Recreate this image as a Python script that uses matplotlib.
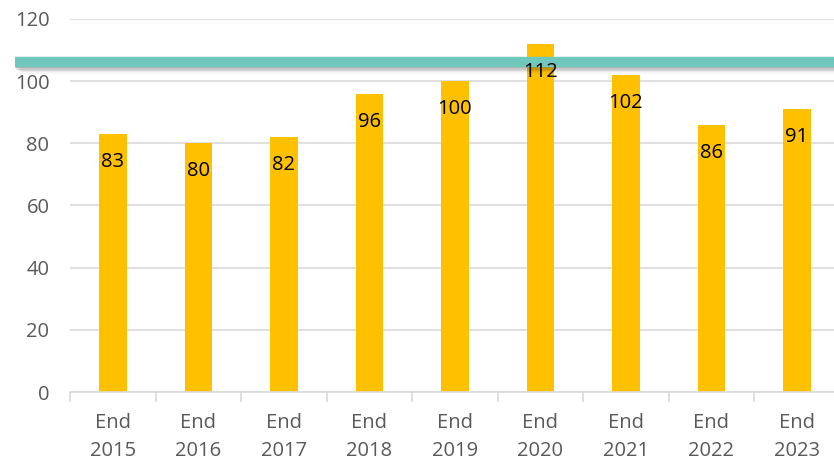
import matplotlib
matplotlib.use("Agg")
import matplotlib.pyplot as plt
import numpy as np

# values per year-end
years = ["2015", "2016", "2017", "2018", "2019", "2020", "2021", "2022", "2023"]
values = [83, 80, 82, 96, 100, 112, 102, 86, 91]
target = 106.2
y_ticks = [0, 20, 40, 60, 80, 100, 120]

plt.rcParams["font.family"] = ["Open Sans", "DejaVu Sans"]

fig = plt.figure(figsize=(8.34, 4.62), dpi=100)
ax = fig.add_axes([0.0842, 0.1515, 0.9225, 0.8074])

x = np.arange(len(years))
bars = ax.bar(x, values, width=0.32, color="#FFC000", zorder=2)

for xi, v in zip(x, values):
    ax.text(xi, v - 9, str(v), ha="center", va="center",
            fontsize=14.5, color="black", zorder=4)

ax.set_xlim(-0.5, len(years) - 0.5)
ax.set_ylim(0, 120)
ax.set_yticks(y_ticks)
ax.yaxis.grid(True, color="#D9D9D9", lw=1.2, zorder=0)
ax.set_axisbelow(True)

ax.set_xticks(x)
ax.set_xticklabels([f"End\n{y}" for y in years], linespacing=1.55)
ax.set_xticks(np.arange(-0.5, len(years)), minor=True)
ax.tick_params(axis="x", which="major", length=0, pad=15,
               labelsize=14.5, labelcolor="#595959")
ax.tick_params(axis="x", which="minor", length=7, width=1.2, color="#D9D9D9")
ax.tick_params(axis="y", length=0, pad=15, labelsize=14.5, labelcolor="#595959")

for s in ("left", "right", "top"):
    ax.spines[s].set_visible(False)
ax.spines["bottom"].set_color("#D9D9D9")
ax.spines["bottom"].set_linewidth(1.2)

# target line with a soft drop shadow, running past the axes on the left
xl, xr = -1.15, len(years)
for k, a in enumerate([0.14, 0.10, 0.07, 0.05, 0.03]):
    ax.plot([xl + 0.02 * k, xr], [target - 1.4 - 0.45 * k] * 2, color="black",
            lw=3, alpha=a, solid_capstyle="butt", clip_on=False, zorder=3)
ax.plot([xl, xr], [target, target], color="#70C8BD", lw=7.5,
        solid_capstyle="butt", clip_on=False, zorder=3.5)

fig.savefig("out.png", dpi=100)
